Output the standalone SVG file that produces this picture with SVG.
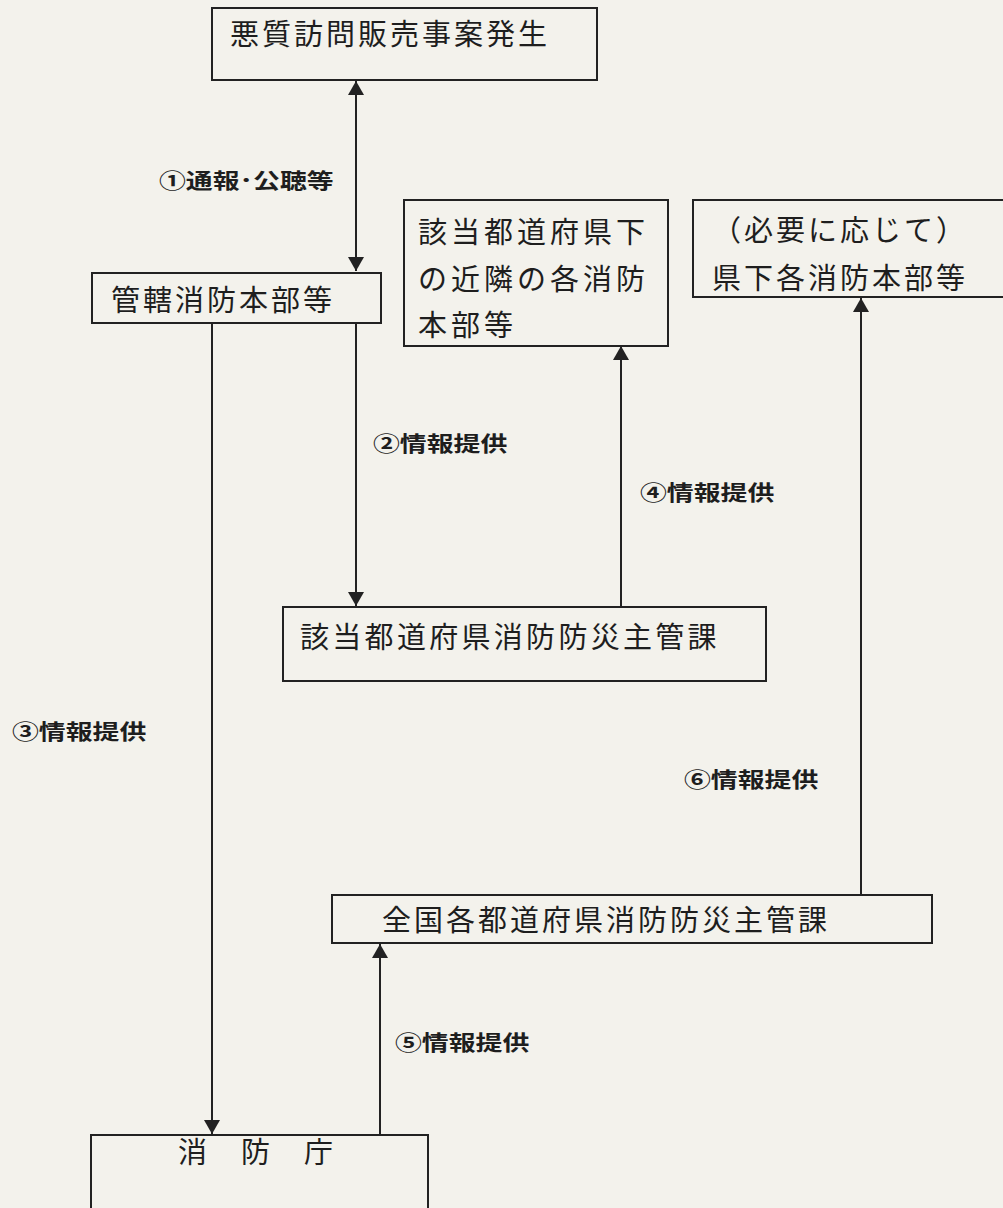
<svg xmlns="http://www.w3.org/2000/svg" width="1003" height="1208" viewBox="0 0 1003 1208">
<defs>
<style>
.box{fill:none;stroke:#222;stroke-width:2}
.t{font-family:"Noto Sans CJK JP","Noto Sans",sans-serif;font-size:29px;fill:#1e1e1e;letter-spacing:3px}
.lb{font-family:"Noto Sans CJK JP","Noto Sans",sans-serif;font-size:21px;font-weight:bold;fill:#1e1e1e}
.ln{stroke:#222;stroke-width:2;fill:none}
</style>
<marker id="ah" viewBox="0 0 14 16" refX="14" refY="8" markerWidth="14" markerHeight="16" markerUnits="userSpaceOnUse" orient="auto-start-reverse">
<path d="M0,0 L14,8 L0,16 Z" fill="#222"/>
</marker>
</defs>
<rect width="1003" height="1208" fill="#f3f2ec"/>
<g id="connectors">
<line class="ln" x1="356" y1="81" x2="356" y2="271" marker-start="url(#ah)" marker-end="url(#ah)"/>
<line class="ln" x1="356" y1="323" x2="356" y2="606" marker-end="url(#ah)"/>
<line class="ln" x1="212" y1="323" x2="212" y2="1134" marker-end="url(#ah)"/>
<line class="ln" x1="621" y1="606" x2="621" y2="346" marker-end="url(#ah)"/>
<line class="ln" x1="861" y1="894" x2="861" y2="298" marker-end="url(#ah)"/>
<line class="ln" x1="380" y1="1134" x2="380" y2="944" marker-end="url(#ah)"/>
<text class="lb" transform="translate(159,188) scale(1.28,1)">①通報･公聴等</text>
<text class="lb" transform="translate(373,451) scale(1.28,1)">②情報提供</text>
<text class="lb" transform="translate(12,739) scale(1.28,1)">③情報提供</text>
<text class="lb" transform="translate(640,500) scale(1.28,1)">④情報提供</text>
<text class="lb" transform="translate(395,1050) scale(1.28,1)">⑤情報提供</text>
<text class="lb" transform="translate(684,787) scale(1.28,1)">⑥情報提供</text>
</g>
<g id="n1">
<rect class="box" x="212" y="8" width="385" height="72"/>
<text class="t" x="230" y="45">悪質訪問販売事案発生</text>
</g>
<g id="n2">
<rect class="box" x="92" y="273" width="289" height="50"/>
<text class="t" x="111" y="311">管轄消防本部等</text>
</g>
<g id="n3">
<rect class="box" x="404" y="200" width="264" height="146"/>
<text class="t" x="418" y="243" style="letter-spacing:4px">該当都道府県下</text>
<text class="t" x="418" y="290" style="letter-spacing:4px">の近隣の各消防</text>
<text class="t" x="418" y="336" style="letter-spacing:4px">本部等</text>
</g>
<g id="n4">
<rect class="box" x="693" y="200" width="320" height="97"/>
<text class="t" x="712" y="241">（必要に応じて）</text>
<text class="t" x="712" y="289">県下各消防本部等</text>
</g>
<g id="n5">
<rect class="box" x="283" y="607" width="483" height="74"/>
<text class="t" x="300" y="648" style="letter-spacing:3.3px">該当都道府県消防防災主管課</text>
</g>
<g id="n6">
<rect class="box" x="332" y="895" width="600" height="48"/>
<text class="t" x="382" y="931" style="letter-spacing:3px">全国各都道府県消防防災主管課</text>
</g>
<g id="n7">
<rect class="box" x="91" y="1135" width="337" height="90"/>
<text class="t" x="178" y="1163" style="letter-spacing:2.5px">消　防　庁</text>
</g>
</svg>
